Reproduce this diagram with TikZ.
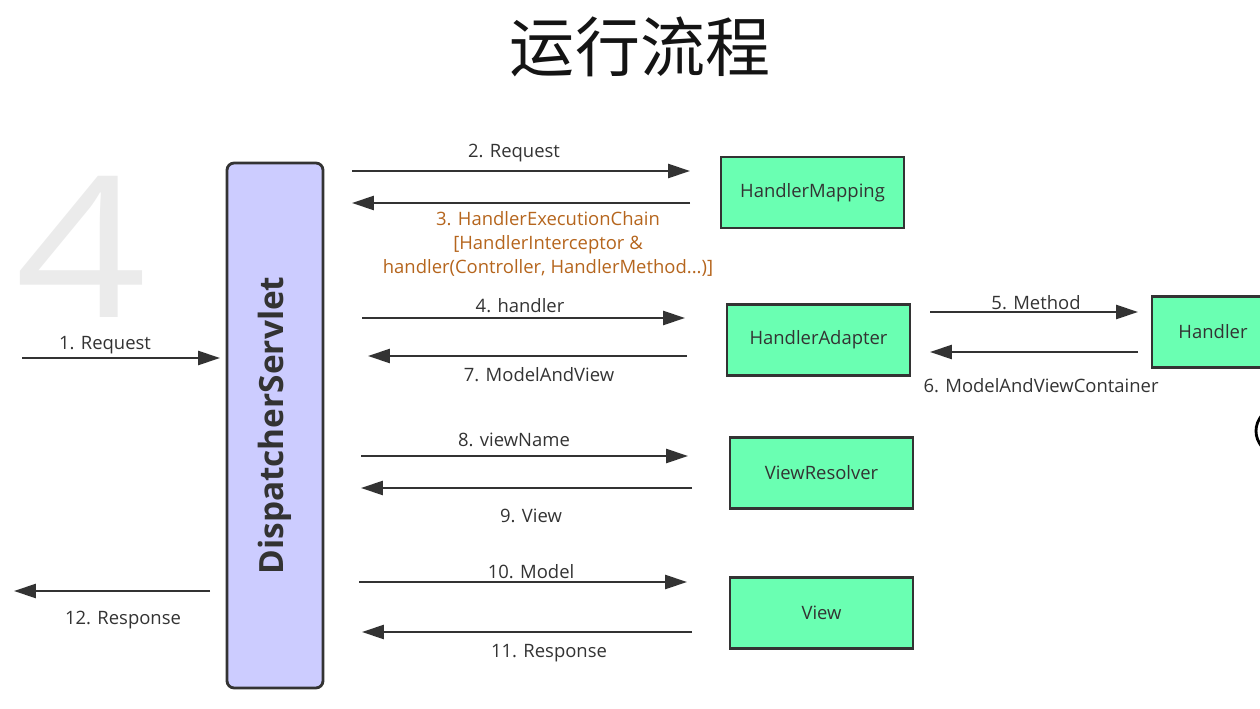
\documentclass[tikz,border=0pt]{standalone}
\usepackage{fontspec}
\setmainfont{Open Sans}
\newfontfamily\cjk{Noto Sans CJK SC}
\usetikzlibrary{arrows.meta}
\definecolor{boxgreen}{HTML}{6AFFB2}
\definecolor{servletblue}{HTML}{CCCCFF}
\definecolor{edgegray}{HTML}{333333}
\definecolor{chainbrown}{HTML}{B5651D}
\tikzset{
	comp/.style={draw=edgegray, line width=1.6pt, fill=boxgreen, minimum width=3.66cm, minimum height=1.42cm, inner sep=0pt, text=edgegray, font=\fontsize{10.5}{12}\selectfont},
	flow/.style={draw=edgegray, line width=1.4pt, -{Triangle[length=12.5pt,width=8pt]}},
	lbl/.style={inner sep=0pt, text=edgegray, font=\fontsize{10.5}{12}\selectfont},
}

\begin{document}
\begin{tikzpicture}[x=0.02cm, y=-0.02cm]
			%%%%% START %%%%%
			
			\useasboundingbox (0, 0) rectangle (1260, 709);
			\clip (0, 0) rectangle (1260, 709);
			
			\node[font=\cjk\fontsize{37}{40}\selectfont, text=black!92] (title) at (640, 47) {运行流程};
			\node[inner sep=0pt, xscale=1.17, text=black!8, font=\fontsize{112}{112}\selectfont] (bigfour) at (81, 246.5) {4};
			
			\node[draw=edgegray, line width=1.6pt, rounded corners=4pt, fill=servletblue, rotate=90, minimum width=10.5cm, minimum height=1.92cm, inner sep=0pt, text=edgegray, font=\bfseries\fontsize{19}{22}\selectfont] (ds) at (275, 425.5) {DispatcherServlet};
			
			\node[comp] (hm) at (812.5, 192.5) {HandlerMapping};
			\node[comp] (ha) at (818.5, 340) {HandlerAdapter};
			\node[comp, minimum width=2.44cm] (hd) at (1213, 332) {Handler};
			\node[comp] (vr) at (821.5, 473) {ViewResolver};
			\node[comp] (vw) at (821.5, 613) {View};
			
			% arrow ends
			\coordinate (c1a) at (22, 358);    \coordinate (c1b) at (220, 358);
			\coordinate (c2a) at (352, 171);   \coordinate (c2b) at (690, 171);
			\coordinate (c3a) at (690, 203);   \coordinate (c3b) at (352, 203);
			\coordinate (c4a) at (362, 318);   \coordinate (c4b) at (685, 318);
			\coordinate (c5a) at (930, 312);   \coordinate (c5b) at (1138, 312);
			\coordinate (c6a) at (1138, 352);  \coordinate (c6b) at (930, 352);
			\coordinate (c7a) at (687, 356);   \coordinate (c7b) at (368, 356);
			\coordinate (c8a) at (361, 456);   \coordinate (c8b) at (688, 456);
			\coordinate (c9a) at (692, 488);   \coordinate (c9b) at (361, 488);
			\coordinate (c10a) at (359, 582); \coordinate (c10b) at (687, 582);
			\coordinate (c11a) at (692, 632); \coordinate (c11b) at (362, 632);
			\coordinate (c12a) at (210, 591); \coordinate (c12b) at (14, 591);
			
			\draw[flow] (c1a) -- (c1b);
			\draw[flow] (c2a) -- (c2b);
			\draw[flow] (c3a) -- (c3b);
			\draw[flow] (c4a) -- (c4b);
			\draw[flow] (c5a) -- (c5b);
			\draw[flow] (c6a) -- (c6b);
			\draw[flow] (c7a) -- (c7b);
			\draw[flow] (c8a) -- (c8b);
			\draw[flow] (c9a) -- (c9b);
			\draw[flow] (c10a) -- (c10b);
			\draw[flow] (c11a) -- (c11b);
			\draw[flow] (c12a) -- (c12b);
			
			\node[lbl] (l1) at (105, 345) {1. Request};
			\node[lbl] (l2) at (514, 153) {2. Request};
			\node[lbl, text=chainbrown, align=center, font=\fontsize{10.5}{13.6}\selectfont] (l3) at (548, 244) {3. HandlerExecutionChain\\{}[HandlerInterceptor \&\\handler(Controller, HandlerMethod...)]};
			\node[lbl] (l4) at (520, 306) {4. handler};
			\node[lbl] (l5) at (1036, 303) {5. Method};
			\node[lbl] (l6) at (1041, 386) {6. ModelAndViewContainer};
			\node[lbl] (l7) at (539, 375) {7. ModelAndView};
			\node[lbl] (l8) at (514, 440) {8. viewName};
			\node[lbl] (l9) at (531, 516) {9. View};
			\node[lbl] (l10) at (531, 572) {10. Model};
			\node[lbl] (l11) at (549, 653) {11. Response};
			\node[lbl] (l12) at (123, 620) {12. Response};
			
			\draw[line width=1.6pt, black] (1262, 415) .. controls (1254, 425) and (1254, 437) .. (1262, 447);
			
			%%%%% END %%%%%
\end{tikzpicture}
\end{document}
